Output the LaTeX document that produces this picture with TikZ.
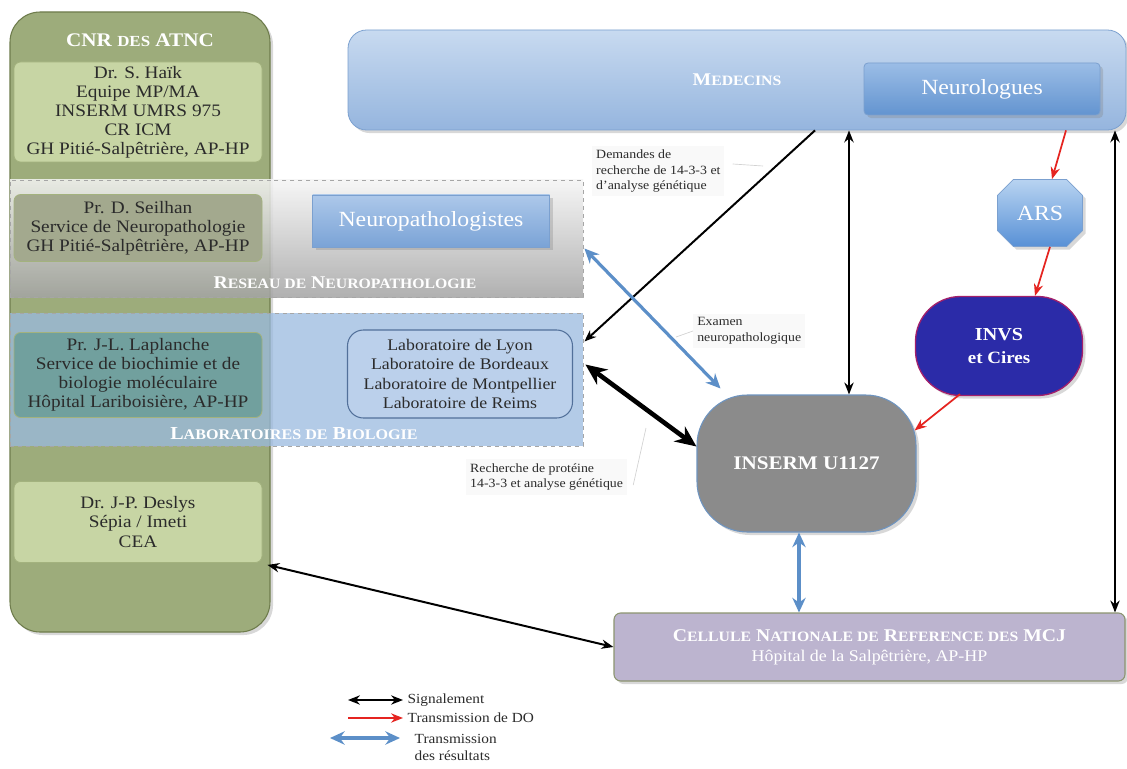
\documentclass[tikz,border=0pt]{standalone}
\usepackage{fontspec}
\setmainfont{Liberation Serif}[FakeStretch=1.1]
\usetikzlibrary{shapes.misc,arrows.meta,positioning,shadows,calc}

\definecolor{colGreen}{HTML}{9DAC7B}
\definecolor{colEdge}{HTML}{6E7C4C}
\definecolor{boxGreen}{HTML}{C7D5A4}
\definecolor{boxEdge}{HTML}{A3B27E}
\definecolor{seilGreen}{HTML}{A3A98E}
\definecolor{lapTeal}{HTML}{71A09E}
\definecolor{textDark}{HTML}{2B2B2B}
\definecolor{bioBlue}{HTML}{9ABAE0}
\definecolor{npTop}{HTML}{ADC8EA}
\definecolor{npBot}{HTML}{7AA3D6}
\definecolor{medTop}{HTML}{C8DAF0}
\definecolor{medBot}{HTML}{95B5DE}
\definecolor{blueEdge}{HTML}{7BA0CF}
\definecolor{neuTop}{HTML}{9BBDE6}
\definecolor{neuBot}{HTML}{6394D0}
\definecolor{arsTop}{HTML}{B8D3F1}
\definecolor{arsBot}{HTML}{5891D6}
\definecolor{labFill}{HTML}{BBD0EB}
\definecolor{labEdge}{HTML}{52709A}
\definecolor{invsBlue}{HTML}{2B2BA8}
\definecolor{invsEdge}{HTML}{A3206B}
\definecolor{inserGray}{HTML}{8B8B8B}
\definecolor{inserEdge}{HTML}{6E94C0}
\definecolor{celFill}{HTML}{BCB4CF}
\definecolor{celEdge}{HTML}{8C9570}
\definecolor{blueArrow}{HTML}{5C8FC8}
\definecolor{redArrow}{HTML}{E52420}

\newcommand{\pxu}{0.0265cm}
\newcommand{\sk}[1]{\scalebox{0.8}{#1}}
\newcommand{\boxfont}{\fontsize{13.2}{14.4}\selectfont}
\newcommand{\labfont}{\fontsize{12.2}{14.4}\selectfont}
\newcommand{\bigfont}{\fontsize{16.3}{18}\selectfont}
\newcommand{\calloutfont}{\fontsize{9.5}{11.8}\selectfont}
\newcommand{\legfont}{\fontsize{10.5}{12.5}\selectfont}

\begin{document}
\begin{tikzpicture}[x=0.0265cm, y=-0.0265cm,
    >={Stealth[length=9pt,width=7pt]},
    every node/.style={align=center},
    col/.style={draw=colEdge, fill=colGreen, rounded corners=0.8cm, line width=0.8pt, drop shadow={opacity=0.3}},
    inbox/.style={draw=boxEdge, rounded corners=5pt, line width=0.6pt, font=\boxfont, text=textDark, minimum width=248*\pxu, inner sep=1pt},
    band/.style={draw=gray!70, dashed, line width=0.6pt, minimum width=573*\pxu},
    bandtitle/.style={font=\bfseries\fontsize{13.5}{15}\selectfont, text=white},
    bluebox/.style={draw=blueEdge, line width=0.6pt, text=white, font=\bigfont, drop shadow={opacity=0.3}},
    callout/.style={fill=gray!5, font=\calloutfont, align=left, inner sep=3pt, text=textDark},
    leader/.style={draw=gray!35, line width=0.5pt},
    sig/.style={<->, line width=1.5pt, black},
    sigthick/.style={<->, line width=3.5pt, black, >={Stealth[length=16pt,width=14pt]}},
    dotrans/.style={->, line width=1.3pt, redArrow},
    res/.style={<->, line width=2.4pt, blueArrow, >={Stealth[length=11pt,width=10pt]}}
]
    \path[fill=white, use as bounding box] (0,0) rectangle (1127,769);

    \node[col, minimum width=260*\pxu, minimum height=620*\pxu] (cnr) at (140,322) {};
    \node[bandtitle, font=\bfseries\fontsize{14.5}{16}\selectfont] (cnrT) at (140,40) {CNR \sk{DES} ATNC};
    \node[inbox, fill=boxGreen, minimum height=100*\pxu] (haik) at (138,112)
        {Dr. S. Haïk\\Equipe MP/MA\\INSERM UMRS 975\\CR ICM\\GH Pitié-Salpêtrière, AP-HP};

    \node[band, top color=gray!8, bottom color=gray!72, fill opacity=0.85, minimum height=117*\pxu] (neuroband) at (296.5,238.5) {};
    \node[band, fill=bioBlue, fill opacity=0.75, minimum height=133*\pxu] (bioband) at (296.5,379.5) {};

    \node[inbox, fill=seilGreen, minimum height=67*\pxu] (seilhan) at (138,228)
        {Pr. D. Seilhan\\Service de Neuropathologie\\GH Pitié-Salpêtrière, AP-HP};
    \node[inbox, fill=lapTeal, minimum height=85*\pxu] (laplanche) at (138,375)
        {Pr. J-L. Laplanche\\Service de biochimie et de\\biologie moléculaire\\Hôpital Lariboisière, AP-HP};
    \node[inbox, fill=boxGreen, minimum height=81*\pxu] (deslys) at (138,522)
        {Dr. J-P. Deslys\\Sépia / Imeti\\CEA};

    \node[bandtitle] (neuroT) at (345,283) {R\sk{ESEAU DE} N\sk{EUROPATHOLOGIE}};
    \node[bandtitle, font=\bfseries\fontsize{13.8}{15}\selectfont] (bioT) at (294,434) {L\sk{ABORATOIRES DE} B\sk{IOLOGIE}};

    \node[bluebox, top color=npTop, bottom color=npBot, minimum width=237*\pxu, minimum height=52*\pxu] (neuropath) at (431,221) {Neuropathologistes};
    \node[draw=labEdge, fill=labFill, rounded corners=12pt, line width=0.8pt, font=\labfont, text=textDark, inner sep=1pt,
        minimum width=225*\pxu, minimum height=88*\pxu] (labs) at (460,374)
        {Laboratoire de Lyon\\Laboratoire de Bordeaux\\Laboratoire de Montpellier\\Laboratoire de Reims};

    \node[bluebox, top color=medTop, bottom color=medBot, rounded corners=14pt, minimum width=778*\pxu, minimum height=100*\pxu,
        font=\bfseries\fontsize{13.5}{15}\selectfont] (medecins) at (737,80) {M\sk{EDECINS}};
    \node[bluebox, top color=neuTop, bottom color=neuBot, rounded corners=3pt, minimum width=236*\pxu, minimum height=52*\pxu] (neurologues) at (982,89) {Neurologues};
    \node[bluebox, chamfered rectangle, chamfered rectangle xsep=6pt, chamfered rectangle ysep=6pt, top color=arsTop, bottom color=arsBot,
        minimum width=85*\pxu, minimum height=67*\pxu] (ars) at (1040,213) {ARS};
    \node[draw=invsEdge, fill=invsBlue, line width=1pt, rounded corners=34pt, text=white, font=\bfseries\fontsize{13.8}{17}\selectfont,
        minimum width=167*\pxu, minimum height=99*\pxu, drop shadow={opacity=0.3}] (invs) at (999,346) {INVS\\{\fontsize{13}{15}\selectfont et Cires}};
    \node[draw=inserEdge, fill=inserGray, line width=0.8pt, rounded corners=38pt, text=white, font=\bfseries\fontsize{14.5}{17}\selectfont,
        minimum width=219*\pxu, minimum height=137*\pxu, drop shadow={opacity=0.3}] (inserm) at (806.5,463.5) {INSERM U1127};
    \node[draw=celEdge, fill=celFill, line width=0.8pt, rounded corners=5pt, text=white, font=\fontsize{12.3}{15}\selectfont,
        minimum width=511*\pxu, minimum height=68*\pxu, drop shadow={opacity=0.3}] (cellule) at (869.5,647) 
        {{\bfseries\fontsize{13.5}{15}\selectfont C\sk{ELLULE} N\sk{ATIONALE DE} R\sk{EFERENCE DES} MCJ}\\Hôpital de la Salpêtrière, AP-HP};

    \draw[sig, ->] ($(medecins.south)+(78,0)$) -- ($(bioband.east)+(1,-38)$);
    \draw[sig] ($(medecins.south)+(112,0)$) -- ($(inserm.north)+(42.5,0)$);
    \draw[sig] ($(medecins.south)+(378,0)$) -- ($(cellule.north)+(245.5,0)$);
    \draw[sigthick] ($(bioband.east)+(2,-15)$) -- ($(inserm.west)+(0,-17)$);
    \draw[sig] ($(deslys.south east)+(5,2)$) -- (cellule.west);
    \draw[res] ($(neuroband.east)+(1,10)$) -- ($(inserm.north west)+(24,-6)$);
    \draw[res] ($(inserm.south)+(-7.5,0)$) -- ($(cellule.north)+(-70.5,0)$);
    \draw[dotrans] ($(medecins.south)+(329,0)$) -- ($(ars.north)+(12,0)$);
    \draw[dotrans] ($(ars.south)+(10,0)$) -- ($(invs.north)+(36,0)$);
    \draw[dotrans] ($(invs.south)+(-39,-2)$) -- ($(inserm.north east)+(-2,36)$);

    \node[callout, anchor=west] (demT) at (592,171) {Demandes de\\recherche de 14-3-3 et\\d'analyse génétique};
    \coordinate (demP) at (763,166);
    \draw[leader] ($(demT.east)+(8,-7)$) -- (demP);
    \node[callout, anchor=west] (exaT) at (693,331) {Examen\\neuropathologique};
    \coordinate (exaP) at (676,337);
    \draw[leader] (exaT.west) -- (exaP);
    \node[callout, anchor=west] (recT) at (466,477) {Recherche de protéine\\14-3-3 et analyse génétique};
    \coordinate (recP) at (646,428);
    \draw[leader] ($(recT.east)+(6,8)$) -- (recP);

    \coordinate (lsigA) at (348,700);
    \node[font=\legfont, text=textDark, anchor=west] (lsig) at (403,700) {Signalement};
    \draw[sig, line width=1.3pt] (lsigA) -- (lsig.west);
    \coordinate (ldoA) at (348,718);
    \node[font=\legfont, text=textDark, anchor=west] (ldo) at (403,718) {Transmission de DO};
    \draw[dotrans] (ldoA) -- (ldo.west);
    \coordinate (lresA) at (330,738);
    \node[font=\legfont, text=textDark, anchor=north west, align=left] (lres) at (410,730) {Transmission\\des résultats};
    \draw[res] (lresA) -- ($(lres.north west)+(-10,8)$);
\end{tikzpicture}
\end{document}
